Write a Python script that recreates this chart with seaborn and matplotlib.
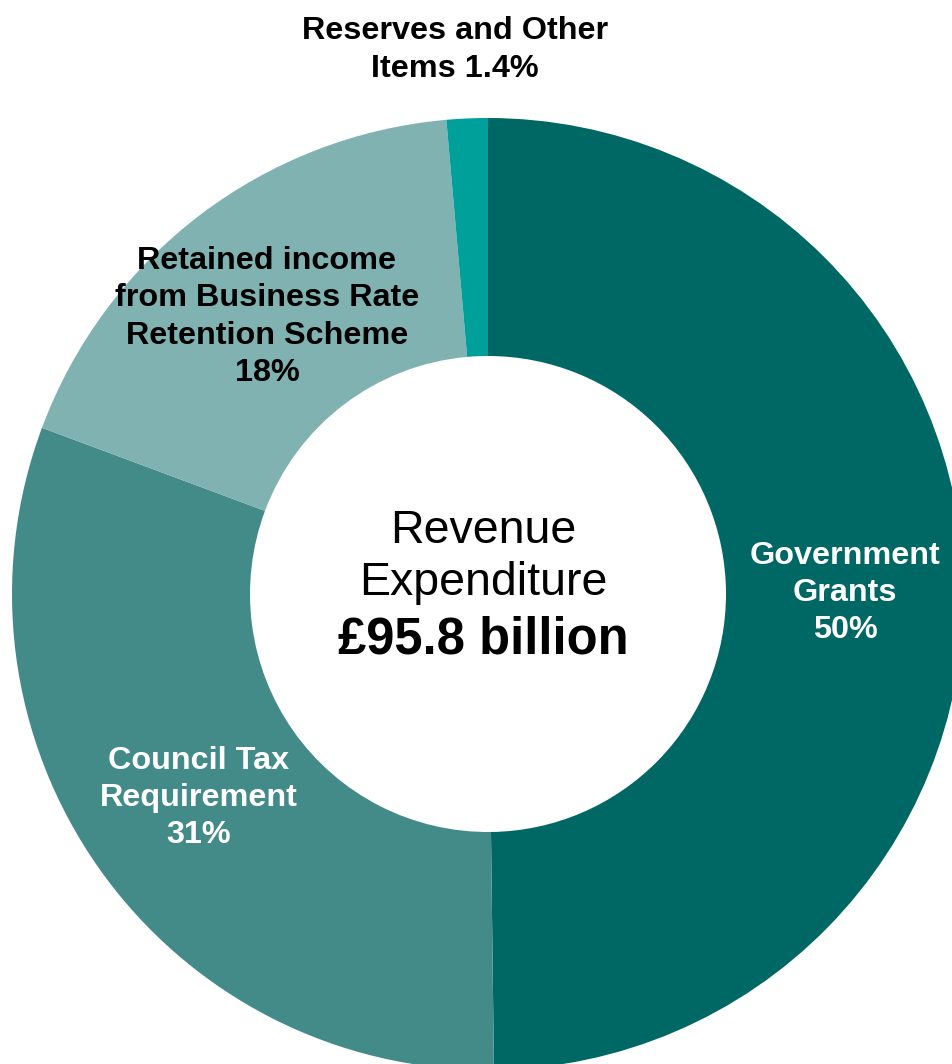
import matplotlib
matplotlib.use("Agg")
import matplotlib.pyplot as plt
import seaborn as sns

# shares of revenue expenditure, % (clockwise from 12 o'clock)
sources = ["Government Grants", "Council Tax Requirement",
           "Retained income from Business Rate Retention Scheme",
           "Reserves and Other Items"]
shares = [50.0, 31.0, 18.0, 1.4]
labels = ["Government\nGrants\n50%",
          "Council Tax\nRequirement\n31%",
          "Retained income\nfrom Business Rate\nRetention Scheme\n18%",
          "Reserves and Other\nItems 1.4%"]
colours = ["#006864", "#438b89", "#80b2b1", "#00a09a"]
total = "£95.8 billion"

sns.set_theme(style="white")
plt.rcParams['font.family'] = ['Liberation Sans', 'DejaVu Sans']

fig = plt.figure(figsize=(9.52, 10.64), dpi=100)
ax = fig.add_axes([0, 0, 1, 1])

ax.pie(shares, colors=colours, startangle=90, counterclock=False,
       radius=1.0, wedgeprops=dict(width=0.5, linewidth=0))

# pixel geometry of the reference -> data coords
cx, cy, R = 488, 594, 476
W, H = 952, 1064
ax.set_xlim(-cx / R, (W - cx) / R)
ax.set_ylim((cy - H) / R, cy / R)
ax.set_aspect('equal')
ax.axis('off')

def px(x, y):
    return (x - cx) / R, (cy - y) / R

label_pos = [(845, 593), (199, 798), (267, 317), (455, 50)]
label_col = ["white", "white", "black", "black"]
for lab, (x, y), c in zip(labels, label_pos, label_col):
    ax.text(*px(x, y), lab, ha='center', va='center', fontsize=23.3,
            fontweight='bold', color=c, linespacing=1.32)

ax.text(*px(483, 531), "Revenue", ha='center', va='center', fontsize=33.5, color='black')
ax.text(*px(483, 583), "Expenditure", ha='center', va='center', fontsize=33.5, color='black')
ax.text(*px(483, 640), total, ha='center', va='center', fontsize=36.5,
        fontweight='bold', color='black')

fig.savefig("out.png", dpi=100, facecolor='white')
